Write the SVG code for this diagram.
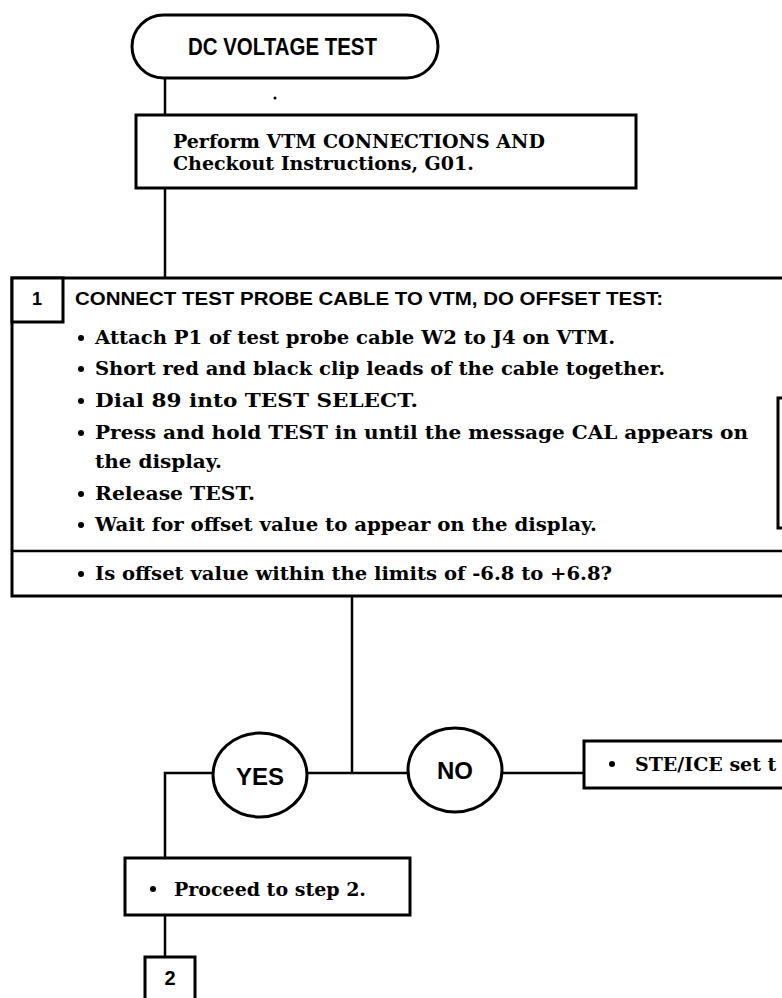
<svg xmlns="http://www.w3.org/2000/svg" width="782" height="998" viewBox="0 0 782 998">
<style>
.box{fill:#fff;stroke:#000;stroke-width:3}
.ln{fill:none;stroke:#000;stroke-width:2.5}
.sans{font-family:"Liberation Sans",Arial,sans-serif;font-weight:bold;fill:#000}
.ser{font-family:"DejaVu Serif","Liberation Serif",serif;font-weight:bold;font-size:19px;fill:#000}
.dot{fill:#000}
</style>
<rect width="782" height="998" fill="#fff"/>
<g id="connectors">
<path class="ln" d="M165 78V115"/>
<path class="ln" d="M165 188V278"/>
<path class="ln" d="M352 596V773"/>
<path class="ln" d="M165 858V773H584"/>
<path class="ln" d="M165 915V957"/>
</g>
<circle class="dot" cx="275" cy="98" r="1.5"/>
<g id="start">
<rect class="box" x="132" y="15" width="306" height="63" rx="31.5"/>
<text class="sans" x="188" y="55" font-size="24" textLength="189" lengthAdjust="spacingAndGlyphs">DC VOLTAGE TEST</text>
</g>
<g id="perform">
<rect class="box" x="136" y="115" width="500" height="73"/>
<text class="ser" x="173" y="148" font-size="19.5">Perform VTM CONNECTIONS AND</text>
<text class="ser" x="173" y="170" font-size="19.5">Checkout Instructions, G01.</text>
</g>
<g id="step1">
<rect class="box" x="12" y="278" width="790" height="318"/>
<path class="ln" d="M12 551H790" stroke-width="3"/>
<rect class="box" x="12" y="278" width="51" height="44"/>
<text class="sans" x="37" y="305" font-size="18" text-anchor="middle">1</text>
<text class="sans" x="75" y="305" font-size="18" textLength="588" lengthAdjust="spacingAndGlyphs">CONNECT TEST PROBE CABLE TO VTM, DO OFFSET TEST:</text>
<circle class="dot" cx="81" cy="338" r="3"/>
<text class="ser" x="95" y="344" textLength="520" lengthAdjust="spacingAndGlyphs">Attach P1 of test probe cable W2 to J4 on VTM.</text>
<circle class="dot" cx="81" cy="369" r="3"/>
<text class="ser" x="95" y="375" textLength="570" lengthAdjust="spacingAndGlyphs">Short red and black clip leads of the cable together.</text>
<circle class="dot" cx="81" cy="401" r="3"/>
<text class="ser" x="95" y="407" textLength="323" lengthAdjust="spacingAndGlyphs">Dial 89 into TEST SELECT.</text>
<circle class="dot" cx="81" cy="433" r="3"/>
<text class="ser" x="95" y="439" textLength="653" lengthAdjust="spacingAndGlyphs">Press and hold TEST in until the message CAL appears on</text>
<text class="ser" x="95" y="468" textLength="127" lengthAdjust="spacingAndGlyphs">the display.</text>
<circle class="dot" cx="81" cy="494" r="3"/>
<text class="ser" x="95" y="500" textLength="160" lengthAdjust="spacingAndGlyphs">Release TEST.</text>
<circle class="dot" cx="81" cy="525" r="3"/>
<text class="ser" x="95" y="531" textLength="502" lengthAdjust="spacingAndGlyphs">Wait for offset value to appear on the display.</text>
<circle class="dot" cx="81" cy="574" r="3"/>
<text class="ser" x="95" y="580" textLength="517" lengthAdjust="spacingAndGlyphs">Is offset value within the limits of -6.8 to +6.8?</text>
</g>
<g id="side-box">
<rect class="box" x="778" y="398" width="20" height="130"/>
</g>
<g id="yes">
<ellipse class="box" cx="260" cy="775" rx="47" ry="42"/>
<text class="sans" x="260" y="785" font-size="24" text-anchor="middle">YES</text>
</g>
<g id="no">
<ellipse class="box" cx="455" cy="770" rx="47" ry="42"/>
<text class="sans" x="455" y="779" font-size="24" text-anchor="middle">NO</text>
</g>
<g id="ste">
<rect class="box" x="584" y="741" width="210" height="47"/>
<circle class="dot" cx="612" cy="764" r="3"/>
<text class="ser" x="635" y="771">STE/ICE set t</text>
</g>
<g id="proceed">
<rect class="box" x="125" y="858" width="285" height="57"/>
<circle class="dot" cx="153" cy="889" r="3"/>
<text class="ser" x="174" y="896">Proceed to step 2.</text>
</g>
<g id="step2">
<rect class="box" x="145" y="957" width="50" height="50"/>
<text class="sans" x="170" y="985" font-size="20" text-anchor="middle">2</text>
</g>
</svg>
